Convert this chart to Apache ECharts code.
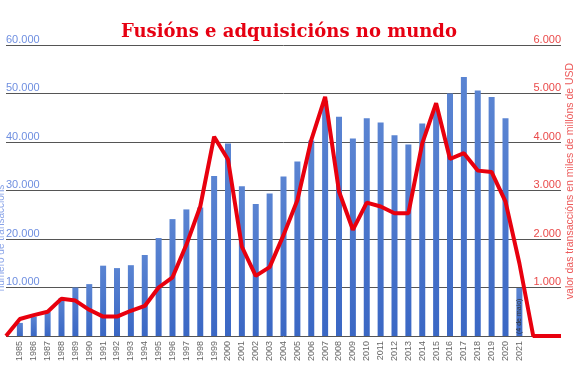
<!DOCTYPE html>
<html>
<head>
<meta charset="utf-8">
<script src="https://cdn.jsdelivr.net/npm/echarts@6/dist/echarts.min.js"></script>
<style>html,body{margin:0;padding:0;background:#fff;}#c{width:578px;height:372px;}</style>
</head>
<body>
<div id="c"></div>
<script>
var categories = ['', '1985','1986','1987','1988','1989','1990','1991','1992','1993','1994','1995','1996','1997','1998','1999','2000','2001','2002','2003','2004','2005','2006','2007','2008','2009','2010','2011','2012','2013','2014','2015','2016','2017','2018','2019','2020','2021','','',''];
var transactions = [null, 2700, 4000, 5000, 7800, 10000, 10700, 14500, 14000, 14600, 16700, 20200, 24100, 26100, 26500, 33000, 39700, 30900, 27200, 29400, 32900, 36000, 40300, 48500, 45200, 40700, 44900, 44000, 41400, 39500, 43800, 46500, 50000, 53400, 50600, 49300, 44900, 9900, null, null, null];
var values = [0, 350, 430, 500, 770, 730, 540, 400, 400, 520, 620, 1000, 1210, 1880, 2670, 4110, 3640, 1840, 1240, 1420, 2080, 2800, 4040, 4930, 2980, 2190, 2750, 2670, 2530, 2530, 3970, 4800, 3650, 3770, 3410, 3380, 2770, 1500, 0, 0, 0];
var leftTicks = {min: 0, max: 60000, interval: 10000};
var rightTicks = {min: 0, max: 6000, interval: 1000};

function fmt(v){ return String(v).replace(/\B(?=(\d{3})+(?!\d))/g, '.'); }

var barData = transactions.map(function(v, i){
  if (categories[i] === '2021') {
    return {value: v, label: {show: true, position: 'insideBottom', rotate: 90, align: 'left', verticalAlign: 'middle', distance: 2, fontSize: 7, color: '#333', formatter: '(4 de maio)'}};
  }
  return v;
});

var chart = echarts.init(document.getElementById('c'));
chart.setOption({
  animation: false,
  title: {text: 'Fusións e adquisicións no mundo', left: 'center', top: 18, textStyle: {fontFamily: 'DejaVu Serif', fontWeight: 'bold', fontSize: 18, color: '#e60012'}},
  grid: {left: 6, right: 17, top: 45, bottom: 36},
  xAxis: {type: 'category', data: categories, boundaryGap: false,
    axisLine: {show: false}, axisTick: {show: false},
    axisLabel: {rotate: 90, interval: 0, fontSize: 9, color: '#666', margin: 5, fontFamily: 'Liberation Sans'}},
  yAxis: [
    {type: 'value', min: leftTicks.min, max: leftTicks.max, interval: leftTicks.interval,
     axisLine: {show: false}, axisTick: {show: false},
     splitLine: {lineStyle: {color: '#555', width: 1}},
     axisLabel: {inside: true, verticalAlign: 'bottom', margin: 0, showMinLabel: false, fontSize: 11, color: '#6f8fe0', fontFamily: 'Liberation Sans', formatter: fmt}},
    {type: 'value', min: rightTicks.min, max: rightTicks.max, interval: rightTicks.interval, position: 'right',
     axisLine: {show: false}, axisTick: {show: false}, splitLine: {show: false},
     axisLabel: {inside: true, verticalAlign: 'bottom', margin: 0, showMinLabel: false, fontSize: 11, color: '#ea4a4a', fontFamily: 'Liberation Sans', formatter: fmt}}
  ],
  graphic: [
    {type: 'text', x: 1, y: 238, rotation: Math.PI/2, style: {text: 'número de transaccións', fontSize: 10, fill: '#8aa4e8', align: 'center', verticalAlign: 'middle', fontFamily: 'Liberation Sans'}},
    {type: 'text', x: 570, y: 181, rotation: Math.PI/2, style: {text: 'valor das transaccións en miles de millóns de USD', fontSize: 10.5, fill: '#ec5a5a', align: 'center', verticalAlign: 'middle', fontFamily: 'Liberation Sans'}}
  ],
  series: [
    {type: 'bar', data: barData, barWidth: 6, yAxisIndex: 0,
     itemStyle: {color: new echarts.graphic.LinearGradient(0, 0, 0, 1, [{offset: 0, color: '#5a84d2'}, {offset: 1, color: '#3a67c4'}])}},
    {type: 'line', data: values, yAxisIndex: 1, symbol: 'none', lineStyle: {color: '#e8000e', width: 4}, itemStyle: {color: '#e8000e'}}
  ]
});
</script>
</body>
</html>
